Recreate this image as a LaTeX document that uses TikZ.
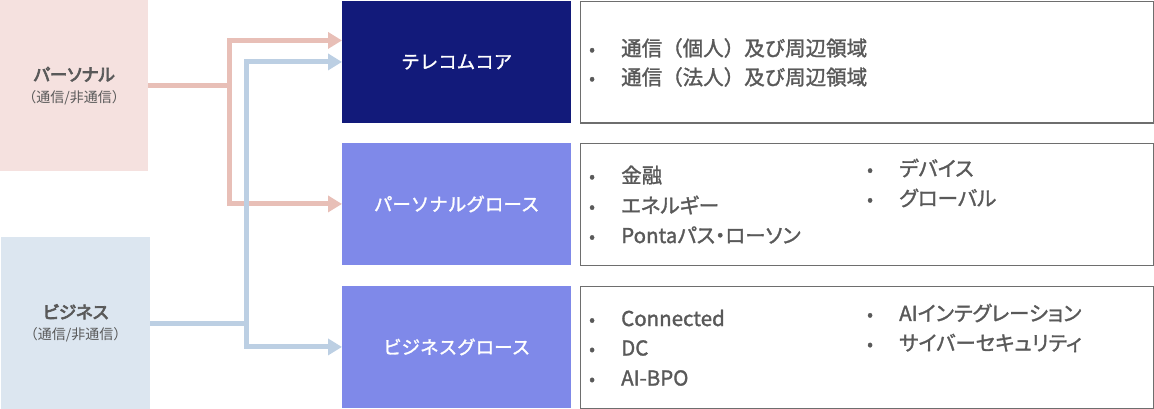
\documentclass[tikz,border=0pt]{standalone}
\usepackage{fontspec}
\setmainfont{Noto Sans CJK JP}
\newfontfamily\listfont{Noto Sans CJK JP}[FakeBold=1.5]
\newfontfamily\kanafont{Noto Sans CJK JP}[FakeBold=1.5, RawFeature=+palt]
\newfontfamily\headfont{Noto Sans CJK JP}[FakeBold=4, RawFeature=+palt]
\usetikzlibrary{arrows.meta}
\definecolor{mpink}{HTML}{F5E1DF}
\definecolor{mblue}{HTML}{DCE6F0}
\definecolor{fpink}{HTML}{E8BFB7}
\definecolor{fblue}{HTML}{BCCFE3}
\definecolor{mnavy}{HTML}{121A7A}
\definecolor{mviolet}{HTML}{7F89E9}
\definecolor{mgray}{HTML}{595959}
\definecolor{mborder}{HTML}{6E6E6E}
\tikzset{srcbox/.style = {anchor=north west, inner sep=0pt, minimum width=148pt,
                          minimum height=171pt, align=center, text=mgray,
                          font=\fontsize{14}{21}\selectfont},
         segbox/.style = {anchor=north west, inner sep=0pt, minimum width=229pt,
                          minimum height=121.5pt, text=white,
                          font=\listfont\fontsize{18.5}{20}\selectfont},
         listbox/.style = {anchor=north west, draw=mborder, line width=1.3pt,
                           inner sep=0pt, minimum width=573pt, minimum height=121.5pt},
         listitem/.style = {anchor=west, inner sep=0pt, text=mgray,
                            font=\listfont\fontsize{20.5}{22}\selectfont},
         flow/.style = {line width=5pt, -{Triangle[width=16pt,length=14pt]}}}
\newcommand{\bul}[1]{\makebox[32pt][l]{\raisebox{0.5pt}{\fontsize{17}{18}\selectfont •}}#1}

\begin{document}
\begin{tikzpicture}[x=1pt, y=-1pt]
      \useasboundingbox (0, 0) rectangle (1154, 409);
      % sources
      \node [srcbox, fill=mpink] (pers) at (0, 0)
        {{\headfont\fontsize{17.5}{20}\selectfont パーソナル}\\（通信/非通信）};
      \node [srcbox, fill=mblue, minimum width=149pt, minimum height=172pt] (biz) at (1, 237)
        {{\headfont\fontsize{17.5}{20}\selectfont ビジネス}\\（通信/非通信）};
      % segments
      \node [segbox, fill=mnavy] (core) at (342, 1) {テレコムコア};
      \node [segbox, fill=mviolet] (pg) at (342, 143) {パーソナルグロース};
      \node [segbox, fill=mviolet] (bg) at (342, 286) {ビジネスグロース};
      \node [listbox] (corelist) at (580, 1) {};
      \node [listbox] (pglist) at (580, 143) {};
      \node [listbox] (bglist) at (580, 286) {};
      % flows
      \draw [flow, fpink] (pers.east) -- ++(81, 0) |- ([yshift=21.5pt]core.west);
      \draw [flow, fpink] (pers.east) -- ++(81, 0) |- (pg.west);
      \draw [flow, fblue] (biz.east) -- ++(96, 0) |- (core.west);
      \draw [flow, fblue] (biz.east) -- ++(96, 0) |- (bg.west);
      % items
      \foreach \txt [count=\i] in {通信（個人）及び周辺領域, 通信（法人）及び周辺領域}
        \node [listitem] (core\i) at (589, {19 + 29*\i}) {\bul{\txt}};
      \foreach \txt [count=\i] in {金融, エネルギー, Pontaパス・ローソン}
        \node [listitem, font=\kanafont\fontsize{20.5}{22}\selectfont] (pga\i) at (589, {145 + 30*\i}) {\bul{\txt}};
      \foreach \txt [count=\i] in {デバイス, グローバル}
        \node [listitem, font=\kanafont\fontsize{20.5}{22}\selectfont] (pgb\i) at (867, {138 + 30*\i}) {\bul{\txt}};
      \foreach \txt [count=\i] in {Connected, DC, AI-BPO}
        \node [listitem, font=\kanafont\fontsize{20.5}{22}\selectfont] (bga\i) at (589, {288 + 30*\i}) {\bul{\txt}};
      \foreach \txt [count=\i] in {AIインテグレーション, サイバーセキュリティ}
        \node [listitem, font=\kanafont\fontsize{20.5}{22}\selectfont] (bgb\i) at (867, {283 + 30*\i}) {\bul{\txt}};
    \end{tikzpicture}
\end{document}
